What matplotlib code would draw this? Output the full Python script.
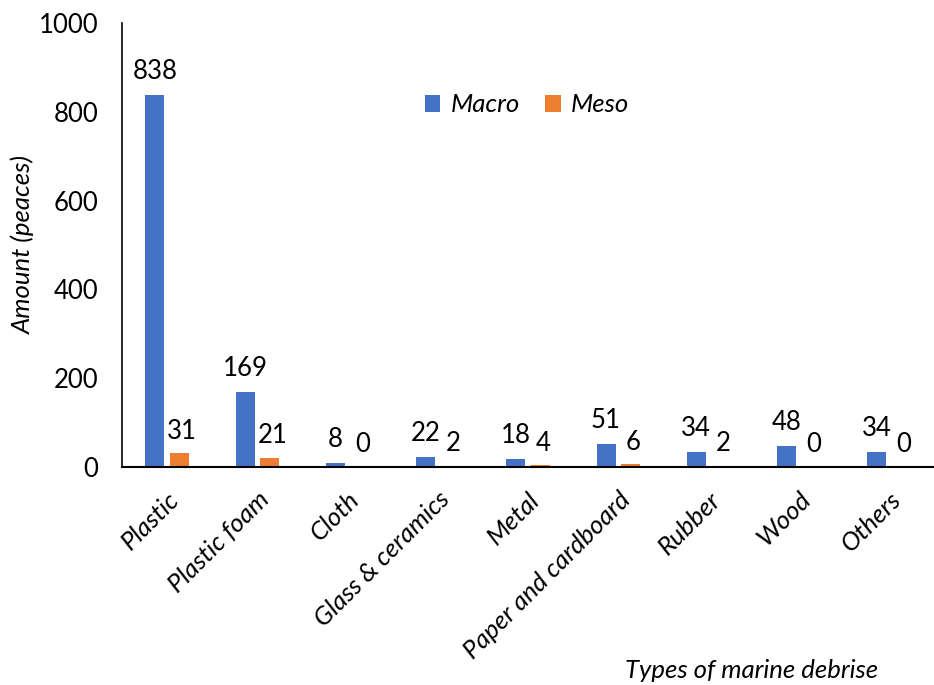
import matplotlib
matplotlib.use("Agg")
import matplotlib.pyplot as plt
import numpy as np

categories = ["Plastic", "Plastic foam", "Cloth", "Glass & ceramics", "Metal",
              "Paper and cardboard", "Rubber", "Wood", "Others"]
macro = [838, 169, 8, 22, 18, 51, 34, 48, 34]
meso = [31, 21, 0, 2, 4, 6, 2, 0, 0]

plt.rcParams['font.family'] = ['Lato', 'DejaVu Sans']
FS = 18.5

fig = plt.figure(figsize=(9.34, 6.85), dpi=100)
ax = fig.add_axes([122/934, 1 - 467/685, 812/934, 444/685])

x = np.arange(len(categories))
w = 0.21
off = 0.135
b1 = ax.bar(x - off, macro, w, color="#4472C4", label="Macro")
b2 = ax.bar(x + off, meso, w, color="#ED7D31", label="Meso")

for rect, v in zip(b1, macro):
    ax.annotate(f"{v}", (rect.get_x() + rect.get_width()/2, v), xytext=(0, 8),
                textcoords="offset points", ha="center", va="bottom", fontsize=FS)
for rect, v in zip(b2, meso):
    ax.annotate(f"{v}", (rect.get_x() + rect.get_width()/2, v), xytext=(2, 7),
                textcoords="offset points", ha="center", va="bottom", fontsize=FS)

ax.set_xlim(-0.5, len(categories) - 0.5)
ax.set_ylim(0, 1000)
ax.set_yticks([0, 200, 400, 600, 800, 1000])
ax.tick_params(axis='y', length=0, labelsize=FS, pad=17)
ax.tick_params(axis='x', length=0, pad=15)
ax.set_xticks(x)
ax.set_xticklabels(categories, rotation=45, ha="right", rotation_mode="anchor",
                   fontsize=FS, fontstyle="italic")
for s in ["top", "right"]:
    ax.spines[s].set_visible(False)
ax.spines["left"].set_linewidth(1.2)
ax.spines["bottom"].set_linewidth(1.5)

ax.set_ylabel("Amount (peaces)", fontsize=FS, fontstyle="italic", labelpad=3)
fig.text(625/934, 1 - 670/685, "Types of marine debrise", fontsize=FS,
         fontstyle="italic", ha="left", va="center")

leg = ax.legend(loc="center", frameon=False, ncol=2,
                prop={'size': FS, 'style': 'italic'}, handlelength=0.6,
                handleheight=0.6, columnspacing=1.0, handletextpad=0.4)
leg.set_bbox_to_anchor((527/934, 1 - 105/685), transform=fig.transFigure)

fig.savefig("out.png", dpi=100)
